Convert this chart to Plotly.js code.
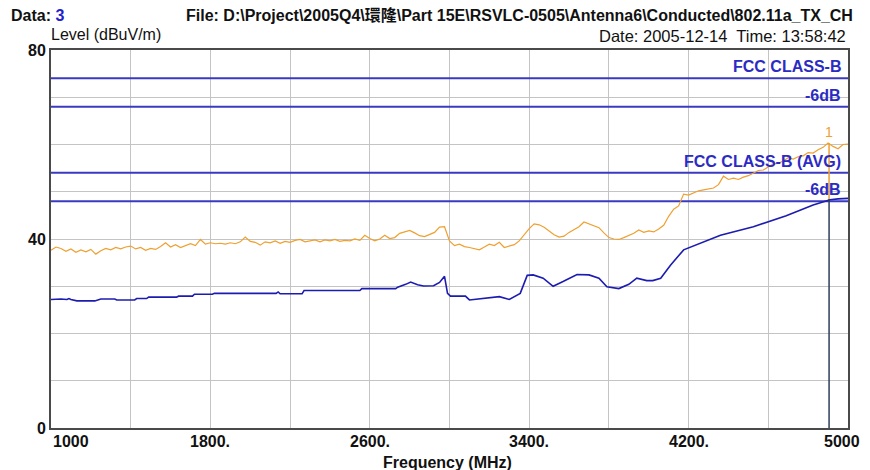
<!DOCTYPE html>
<html><head><meta charset="utf-8">
<script src="https://cdn.plot.ly/plotly-3.0.1.min.js"></script>
<style>html,body{margin:0;padding:0;background:#fff}#chart{width:870px;height:470px}</style>
</head><body><div id="chart"></div>
<script>
// Peak trace (orange)
var peakFreq = [1000,1025,1050,1075,1100,1125,1150,1175,1200,1225,1250,1275,1300,1325,1350,1375,1400,1425,1450,1475,1500,1525,1550,1575,1600,1625,1650,1675,1700,1725,1750,1775,1800,1825,1850,1875,1900,1925,1950,1975,2000,2025,2050,2075,2100,2125,2150,2175,2200,2225,2250,2275,2300,2325,2350,2375,2400,2425,2450,2475,2500,2525,2550,2575,2600,2625,2650,2675,2700,2725,2750,2775,2800,2825,2850,2875,2900,2925,2950,2975,3000,3025,3050,3075,3100,3125,3150,3175,3200,3225,3250,3275,3300,3325,3350,3375,3400,3425,3450,3475,3500,3525,3550,3575,3600,3625,3650,3675,3700,3725,3750,3775,3800,3825,3850,3875,3900,3925,3950,3975,4000,4025,4050,4075,4100,4125,4150,4175,4200,4225,4250,4275,4300,4325,4350,4375,4400,4425,4450,4475,4500,4525,4550,4575,4600,4625,4650,4675,4700,4725,4750,4775,4800,4825,4850,4875,4900,4925,4950,4975,5000];
var peakLevel = [37.6,38.3,38.0,37.4,37.9,37.2,37.7,37.3,37.8,36.8,37.5,38.0,37.7,38.2,37.9,38.3,38.5,37.9,38.2,37.6,38.0,37.8,38.4,39.2,38.3,38.8,38.2,38.6,39.0,38.6,39.9,38.9,39.2,39.0,39.1,38.9,39.2,39.0,39.4,40.4,39.5,39.3,38.7,39.4,39.2,39.6,39.1,39.5,39.3,39.7,39.9,39.4,39.6,39.8,39.4,39.8,39.6,39.9,39.5,39.7,39.6,40.0,39.7,40.8,40.1,39.6,40.0,40.8,40.1,40.3,41.2,41.5,41.8,41.3,40.7,40.5,41.0,41.4,42.5,42.6,39.6,38.6,38.9,38.4,38.2,38.0,37.7,38.3,38.9,38.6,39.3,38.2,38.5,38.8,39.6,40.9,42.2,43.2,43.0,42.5,41.6,40.9,40.4,40.6,41.4,42.0,42.6,43.6,43.2,42.9,42.4,41.3,40.3,40.0,39.9,40.3,40.7,41.2,41.9,41.4,41.7,41.5,42.1,42.9,44.8,46.3,47.0,49.5,49.3,49.8,50.2,50.4,50.6,50.8,51.5,53.3,52.6,52.9,52.6,53.1,53.4,53.9,54.5,54.6,55.2,55.9,56.0,56.5,57.2,56.9,57.4,57.6,58.3,58.2,58.9,59.4,60.3,59.6,59.1,60.0,60.1];

// Average trace (blue)
var avgFreq = [1000,1050,1080,1090,1100,1130,1220,1250,1320,1330,1420,1430,1480,1490,1630,1640,1710,1720,1810,1820,2050,2130,2140,2150,2260,2270,2550,2560,2730,2740,2780,2805,2840,2870,2920,2950,2975,2990,3005,3080,3100,3180,3250,3300,3355,3390,3420,3470,3520,3570,3640,3700,3750,3790,3850,3900,3940,3990,4020,4060,4110,4175,4275,4360,4525,4690,4825,4910,4950,5000];
var avgLevel = [27.2,27.3,27.2,27.4,27.2,26.9,26.9,27.3,27.3,27.1,27.1,27.4,27.4,27.7,27.7,27.9,27.9,28.3,28.3,28.5,28.5,28.5,28.8,28.4,28.4,29.1,29.1,29.5,29.5,29.8,30.4,30.9,30.3,30.05,30.1,30.8,32.1,28.5,27.9,27.9,27.1,27.5,27.8,27.2,28.5,32.3,32.4,31.7,30.0,31.0,32.5,32.4,31.7,29.9,29.5,30.4,31.7,31.2,31.2,31.7,34.5,37.7,39.4,40.8,42.6,44.9,47.2,48.3,48.5,48.6];

// Limit lines
var limitNames = ["FCC CLASS-B","-6dB","FCC CLASS-B (AVG)","-6dB"];
var limitLevels = [74,68,54,48];
var limitRange = [1000,5000];

// Marker
var markerFreq = 4905;
var markerLabel = "1";
var markerPeak = 60.3;
var markerAvg = 48.5;

// Axis ticks
var xTickVals = [1000,1800,2600,3400,4200,5000];
var xTickText = ["1000","1800.","2600.","3400.","4200.","5000"];
var xGridVals = [1000,1400,1800,2200,2600,3000,3400,3800,4200,4600,5000];
var yGridVals = [0,10,20,30,40,50,60,70,80];
var yTickText = ["0","","","","40","","","","80"];

var blue = "#2b2bc4";
var fam = "Liberation Sans";
var traces = [];
limitLevels.forEach(function(v){
  traces.push({x:limitRange, y:[v,v], mode:"lines", line:{color:"#3a3ac0", width:2}, hoverinfo:"skip"});
});
traces.push({x:peakFreq, y:peakLevel, mode:"lines", line:{color:"#eea030", width:1.2}});
traces.push({x:avgFreq, y:avgLevel, mode:"lines", line:{color:"#1c1cb0", width:1.6}});
traces.push({x:[markerFreq,markerFreq], y:[0,markerAvg], mode:"lines", line:{color:"#2e3c5e", width:1.5}});
traces.push({x:[markerFreq,markerFreq], y:[markerAvg,markerPeak], mode:"lines", line:{color:"#eea030", width:1.5}});

var annotations = [];
limitNames.forEach(function(n,i){
  annotations.push({xref:"paper", yref:"y", x:1, y:limitLevels[i], xanchor:"right", yanchor:"bottom",
    xshift:-5, yshift:1, text:n, showarrow:false, font:{family:fam, size:16, weight:"bold", color:blue}});
});
xTickVals.forEach(function(v,i){
  var xs = 0;
  if (i===0) xs = 20;
  if (i===xTickVals.length-1) xs = -6;
  annotations.push({xref:"x", yref:"paper", x:v, y:0, yanchor:"top", xanchor:"center", xshift:xs, yshift:-3,
    text:xTickText[i], showarrow:false, font:{family:fam, size:16, weight:"bold", color:"#111"}});
});
annotations.push({xref:"x", yref:"y", x:markerFreq, y:markerPeak, yanchor:"bottom", yshift:1, text:markerLabel,
  showarrow:false, font:{family:fam, size:14, color:"#eea030"}});
annotations.push({xref:"paper", yref:"paper", x:-51/797, y:1+34/378, xanchor:"left", yanchor:"middle", xshift:9,
  text:"Data: <span style='color:#2222cc'>3</span>", showarrow:false, font:{family:fam, size:16, weight:"bold", color:"#111"}});
annotations.push({xref:"paper", yref:"paper", x:1, y:1+34/378, xanchor:"right", yanchor:"middle", xshift:7,
  text:"File: D:\\Project\\2005Q4\\環隆\\Part 15E\\RSVLC-0505\\Antenna6\\Conducted\\802.11a_TX_CH", showarrow:false,
  font:{family:"Liberation Sans, Noto Sans CJK TC", size:16, weight:"bold", color:"#111"}});
annotations.push({xref:"paper", yref:"paper", x:0, y:1+16/378, xanchor:"left", yanchor:"middle", xshift:-2,
  text:"Level (dBuV/m)", showarrow:false, font:{family:fam, size:16, color:"#111"}});
annotations.push({xref:"paper", yref:"paper", x:1, y:1+14/378, xanchor:"right", yanchor:"middle", xshift:0,
  text:"Date: 2005-12-14  Time: 13:58:42", showarrow:false, font:{family:fam, size:16.5, color:"#111"}});
annotations.push({xref:"paper", yref:"paper", x:(447-51)/797, y:-34/378, xanchor:"center", yanchor:"middle",
  text:"Frequency (MHz)", showarrow:false, font:{family:fam, size:16, weight:"bold", color:"#111"}});

var layout = {
  width:870, height:470,
  margin:{l:51, r:22, t:50, b:42},
  paper_bgcolor:"#fff", plot_bgcolor:"#fff",
  showlegend:false,
  xaxis:{range:[1000,5000], tickmode:"array", tickvals:xGridVals, ticktext:xGridVals.map(function(){return "";}),
    showgrid:true, gridcolor:"#c4c4c4", gridwidth:1, zeroline:false, showline:true, mirror:true,
    linecolor:"#4a4a4a", linewidth:2, ticks:""},
  yaxis:{range:[0,80], tickmode:"array", tickvals:yGridVals, ticktext:yTickText,
    showgrid:true, gridcolor:"#c4c4c4", gridwidth:1, zeroline:false, showline:true, mirror:true,
    linecolor:"#4a4a4a", linewidth:2, ticks:"", ticklen:0,
    tickfont:{family:fam, size:16, weight:"bold", color:"#111"}},
  annotations:annotations
};
Plotly.newPlot("chart", traces, layout, {displayModeBar:false, staticPlot:true});
</script></body></html>
